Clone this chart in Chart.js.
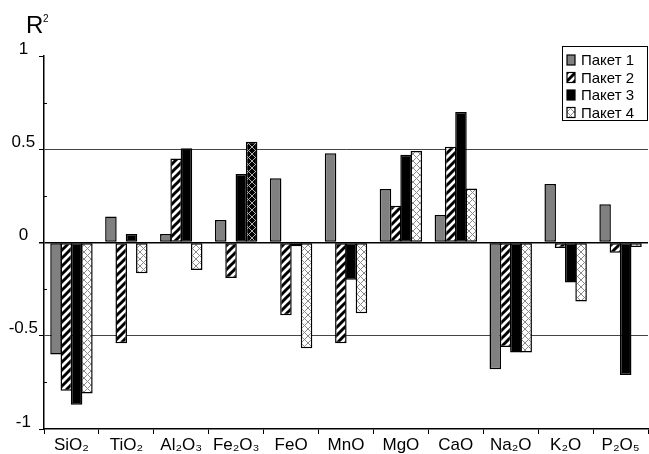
<!DOCTYPE html>
<html>
<head>
<meta charset="utf-8">
<script src="https://cdn.jsdelivr.net/npm/chart.js@4"></script>
<style>
  body { margin: 0; background: #fff; }
</style>
</head>
<body>
<canvas id="myChart" width="649" height="454"></canvas>
<script>
const categories = ["SiO₂", "TiO₂", "Al₂O₃", "Fe₂O₃", "FeO", "MnO", "MgO", "CaO", "Na₂O", "K₂O", "P₂O₅"];
const seriesNames = ["Пакет 1", "Пакет 2", "Пакет 3", "Пакет 4"];
const packet1 = [-0.6, 0.14, 0.045, 0.12, 0.344, 0.478, 0.287, 0.147, -0.68, 0.314, 0.205];
const packet2 = [-0.795, -0.54, 0.45, -0.19, -0.39, -0.54, 0.197, 0.514, -0.56, -0.03, -0.055];
const packet3 = [-0.87, 0.046, 0.505, 0.367, -0.02, -0.2, 0.47, 0.7, -0.59, -0.215, -0.71];
const packet4 = [-0.81, -0.165, -0.147, 0.54, -0.567, -0.38, 0.49, 0.29, -0.59, -0.317, -0.024];
const yTicks = [-1, -0.5, 0, 0.5, 1];
const yMinorTicks = [-0.75, -0.25, 0.25, 0.75];

const FONT = "'Liberation Sans', Arial, sans-serif";

function makePattern(size, bg, draw) {
  const c = document.createElement("canvas");
  c.width = size;
  c.height = size;
  const ctx = c.getContext("2d");
  ctx.fillStyle = bg;
  ctx.fillRect(0, 0, size, size);
  draw(ctx, size);
  return c.getContext("2d").createPattern(c, "repeat");
}

// diagonal "/" stripes
const hatch = makePattern(8, "#fff", (ctx, s) => {
  ctx.strokeStyle = "#000";
  ctx.lineWidth = 3;
  ctx.beginPath();
  ctx.moveTo(-2, s + 2); ctx.lineTo(s + 2, -2);
  ctx.moveTo(-6, 6); ctx.lineTo(6, -6);
  ctx.moveTo(2, s + 6); ctx.lineTo(s + 6, 2);
  ctx.stroke();
});

function crossDraw(color) {
  return (ctx, s) => {
    ctx.strokeStyle = color;
    ctx.lineWidth = 1;
    ctx.beginPath();
    ctx.moveTo(0, 0); ctx.lineTo(s, s);
    ctx.moveTo(s, 0); ctx.lineTo(0, s);
    ctx.stroke();
  };
}
const cross = makePattern(7, "#fff", crossDraw("#8a8a8a"));
const crossDark = makePattern(7, "#000", crossDraw("#b0b0b0"));

const fills = [
  "#808080",
  hatch,
  "#000000",
  packet4.map((v, i) => (i === 3 ? crossDark : cross)),
];
const legendFills = ["#808080", hatch, "#000000", cross];

const chartDOM = document.getElementById("myChart");

const extras = {
  id: "extras",
  afterDraw(chart) {
    const ctx = chart.ctx;
    const y = chart.scales.y;
    ctx.save();

    // small inner ticks between the labelled ones
    ctx.strokeStyle = "#000";
    ctx.lineWidth = 1;
    ctx.beginPath();
    yMinorTicks.forEach((v) => {
      const py = Math.round(y.getPixelForValue(v)) + 0.5;
      ctx.moveTo(y.right, py);
      ctx.lineTo(y.right + 3, py);
    });
    ctx.stroke();

    ctx.fillStyle = "#000";
    ctx.textBaseline = "alphabetic";
    ctx.textAlign = "left";
    ctx.font = "24px " + FONT;
    ctx.fillText("R", 26, 33);
    ctx.font = "10px " + FONT;
    ctx.fillText("2", 43, 22);

    // legend box
    const lx = 562, ly = 46, lw = 86, lh = 75;
    ctx.fillStyle = "#fff";
    ctx.fillRect(lx, ly, lw, lh);
    ctx.strokeStyle = "#000";
    ctx.lineWidth = 1;
    ctx.strokeRect(lx + 0.5, ly + 0.5, lw - 1, lh - 1);
    ctx.font = "15px " + FONT;
    ctx.textBaseline = "middle";
    seriesNames.forEach((name, i) => {
      const cy = 60 + i * 17.5;
      ctx.fillStyle = legendFills[i];
      ctx.fillRect(567, cy - 5, 8, 10);
      ctx.lineWidth = 1.2;
      ctx.strokeRect(567, cy - 5, 8, 10);
      ctx.fillStyle = "#000";
      ctx.fillText(name, 581, cy + 1);
    });
    ctx.restore();
  },
};

const datasets = [packet1, packet2, packet3, packet4].map((data, i) => ({
  label: seriesNames[i],
  data,
  backgroundColor: fills[i],
  borderColor: "#000",
  borderWidth: 1.5,
  borderSkipped: false,
  categoryPercentage: 0.75,
  barPercentage: 1.12,
}));

const myChart = new Chart(chartDOM, {
  type: "bar",
  data: { labels: categories, datasets },
  plugins: [extras],
  options: {
    responsive: false,
    animation: false,
    layout: { padding: { top: 56, right: 1, left: 0, bottom: 0 } },
    plugins: {
      legend: { display: false },
      tooltip: { enabled: false },
    },
    scales: {
      x: {
        grid: {
          drawOnChartArea: false,
          tickLength: 5,
          color: "#000",
          tickColor: "#000",
        },
        border: { color: "#000", width: 1.5 },
        ticks: {
          color: "#000",
          font: { family: FONT, size: 17 },
          padding: 1,
          maxRotation: 0,
          autoSkip: false,
        },
        afterFit(scale) { scale.height = 25; },
      },
      y: {
        min: -1,
        max: 1,
        afterBuildTicks(scale) {
          scale.ticks = yTicks.map((v) => ({ value: v }));
        },
        grid: {
          tickLength: 5,
          tickColor: "#000",
          color(c) {
            const v = c.tick ? c.tick.value : null;
            if (v === 0) return "#000";
            if (v === 0.5 || v === -0.5) return "#444";
            return "rgba(0,0,0,0)";
          },
          lineWidth(c) {
            return c.tick && c.tick.value === 0 ? 1.5 : 1;
          },
        },
        border: { color: "#000", width: 1.5 },
        ticks: {
          color: "#000",
          font: { family: FONT, size: 17 },
          padding: 1,
          crossAlign: "center",
          labelOffset: -7,
          callback: (v) => String(v),
        },
        afterFit(scale) { scale.width = 44; },
      },
    },
  },
});
</script>
</body>
</html>
